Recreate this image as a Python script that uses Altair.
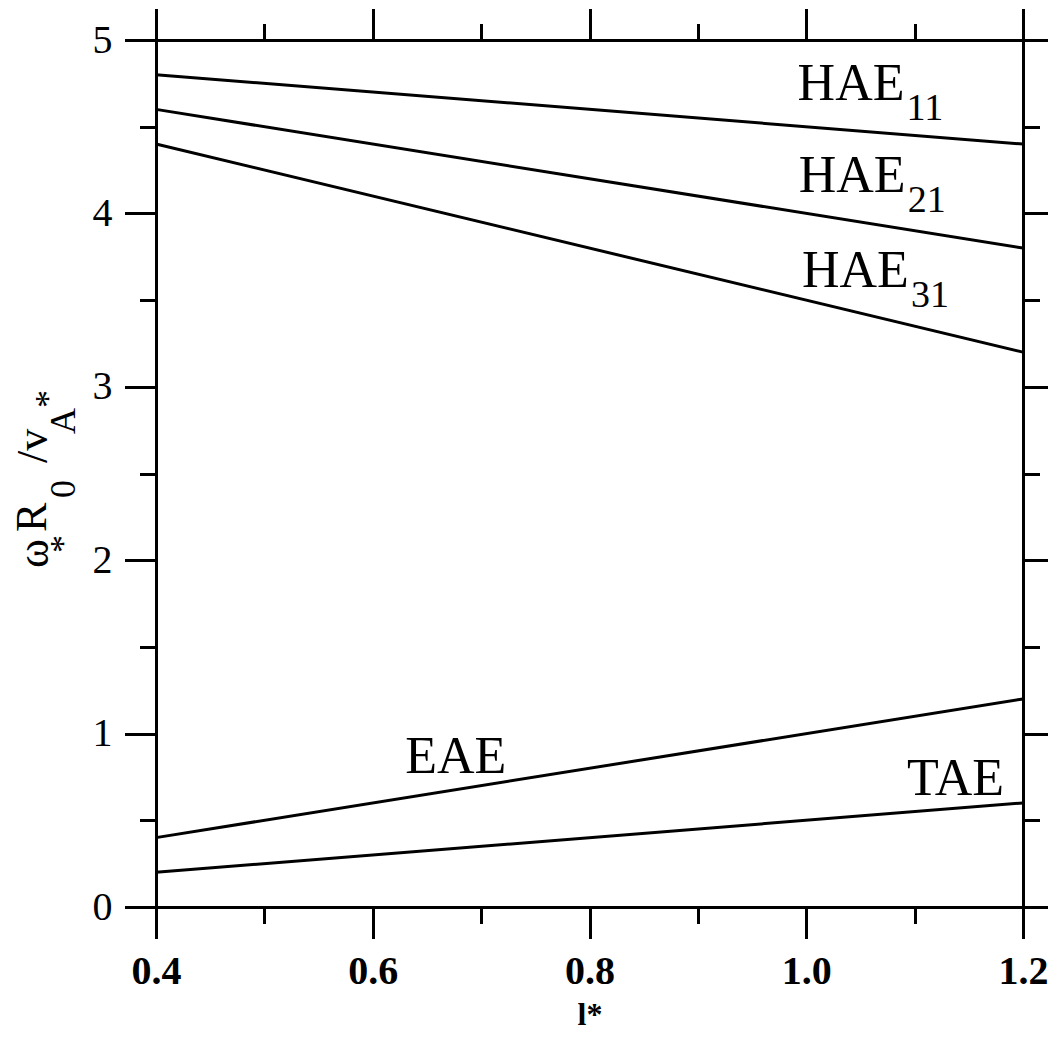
import altair as alt
import pandas as pd

# ---- data ----
series_names = ["HAE11", "HAE21", "HAE31", "EAE", "TAE"]
x_start = [0.4, 0.4, 0.4, 0.4, 0.4]
x_end = [1.2, 1.2, 1.2, 1.2, 1.2]
y_start = [4.8, 4.6, 4.4, 0.4, 0.2]
y_end = [4.4, 3.8, 3.2, 1.2, 0.6]

label_main = ["HAE", "HAE", "HAE", "EAE", "TAE"]
label_sub = ["11", "21", "31", "", ""]
label_x = [0.992, 0.993, 0.996, 0.630, 1.093]
label_y = [4.654, 4.123, 3.576, 0.773, 0.646]

x_major = [0.4, 0.6, 0.8, 1.0, 1.2]
x_minor = [0.5, 0.7, 0.9, 1.1]
y_major = [0, 1, 2, 3, 4, 5]
y_minor = [0.5, 1.5, 2.5, 3.5, 4.5]

x_title = "l*"
ytitle_parts = ["ω", "*", "R", "0", "/v", "A", "*"]

# ---- tables ----
rows = []
for n, xs, xe, ys, ye in zip(series_names, x_start, x_end, y_start, y_end):
    rows.append({"series": n, "x": xs, "y": ys})
    rows.append({"series": n, "x": xe, "y": ye})
lines_df = pd.DataFrame(rows)
labels_df = pd.DataFrame({"main": label_main, "sub": label_sub, "x": label_x, "y": label_y})
subs_df = labels_df[labels_df["sub"] != ""]

FONT = "Liberation Serif"
xscale = alt.Scale(domain=[0.4, 1.2], nice=False, zero=False)
yscale = alt.Scale(domain=[0, 5], nice=False, zero=False)

common = dict(grid=False, tickColor="black", domainColor="black", tickWidth=3,
              domainWidth=3, domainCap="square", tickCap="square")

ax_bottom_major = alt.Axis(orient="bottom", values=x_major, format=".1f", tickSize=30,
                           labelFont=FONT, labelFontSize=40, labelFontWeight="bold",
                           labelColor="black", labelPadding=14, labelFlush=False,
                           labelOverlap=False, title=x_title, titleFont=FONT,
                           titleFontSize=32, titleFontWeight="bold", titleColor="black",
                           titleBaseline="top", titlePadding=8, **common)
ax_bottom_minor = alt.Axis(orient="bottom", values=x_minor, tickSize=15, labels=False,
                           domain=False, title=None, **common)
ax_top_major = alt.Axis(orient="top", values=x_major, tickSize=30, labels=False,
                        title=None, **common)
ax_top_minor = alt.Axis(orient="top", values=x_minor, tickSize=15, labels=False,
                        domain=False, title=None, **common)

ax_left_major = alt.Axis(orient="left", values=y_major, format="d", tickSize=30,
                         labelFont=FONT, labelFontSize=40, labelColor="black",
                         labelPadding=14, labelFlush=False, labelOverlap=False,
                         title=None, **common)
ax_left_minor = alt.Axis(orient="left", values=y_minor, tickSize=15, labels=False,
                         domain=False, title=None, **common)
ax_right_major = alt.Axis(orient="right", values=y_major, tickSize=30, labels=False,
                          title=None, **common)
ax_right_minor = alt.Axis(orient="right", values=y_minor, tickSize=15, labels=False,
                          domain=False, title=None, **common)


def line_layer(xax, yax, visible):
    return alt.Chart(lines_df).mark_line(
        color="black", strokeWidth=3, opacity=1 if visible else 0
    ).encode(
        x=alt.X("x:Q", scale=xscale, axis=xax),
        y=alt.Y("y:Q", scale=yscale, axis=yax),
        detail="series:N",
    )


l1 = line_layer(ax_bottom_major, ax_left_major, True)
l2 = line_layer(ax_bottom_minor, ax_left_minor, False)
l3 = line_layer(ax_top_major, ax_right_major, False)
l4 = line_layer(ax_top_minor, ax_right_minor, False)

main_txt = alt.Chart(labels_df).mark_text(
    font=FONT, fontSize=52, align="left", baseline="alphabetic", color="black"
).encode(
    x=alt.X("x:Q", scale=xscale, axis=None),
    y=alt.Y("y:Q", scale=yscale, axis=None),
    text="main:N",
)
sub_txt = alt.Chart(subs_df).mark_text(
    font=FONT, fontSize=38, align="left", baseline="alphabetic", color="black",
    dx=109, dy=20
).encode(
    x=alt.X("x:Q", scale=xscale, axis=None),
    y=alt.Y("y:Q", scale=yscale, axis=None),
    text="sub:N",
)

# y-axis title pieces (rotated), placed relative to plot area
piece_style = [
    (-108, 528, 44), (-81, 513, 36), (-110, 492, 44), (-81, 458, 36),
    (-109, 423, 44), (-81, 394, 36), (-96, 368, 36),
]
one = pd.DataFrame({"k": [0]})
ytitle_layers = []
for txt, (px, py, fs) in zip(ytitle_parts, piece_style):
    ytitle_layers.append(
        alt.Chart(one).mark_text(
            text=txt, font=FONT, fontSize=fs, angle=270, align="left",
            baseline="alphabetic", color="black"
        ).encode(x=alt.value(px), y=alt.value(py))
    )

chart = alt.layer(l1, l2, l3, l4, main_txt, sub_txt, *ytitle_layers).resolve_axis(
    x="independent", y="independent"
).properties(
    width=867, height=867,
    autosize=alt.AutoSizeParams(type="none"),
    padding={"left": 148, "top": 32, "right": 25, "bottom": 133},
    background="white",
).configure_view(stroke=None)

chart.save("out.html", embed_options={"renderer": "svg", "actions": False})
